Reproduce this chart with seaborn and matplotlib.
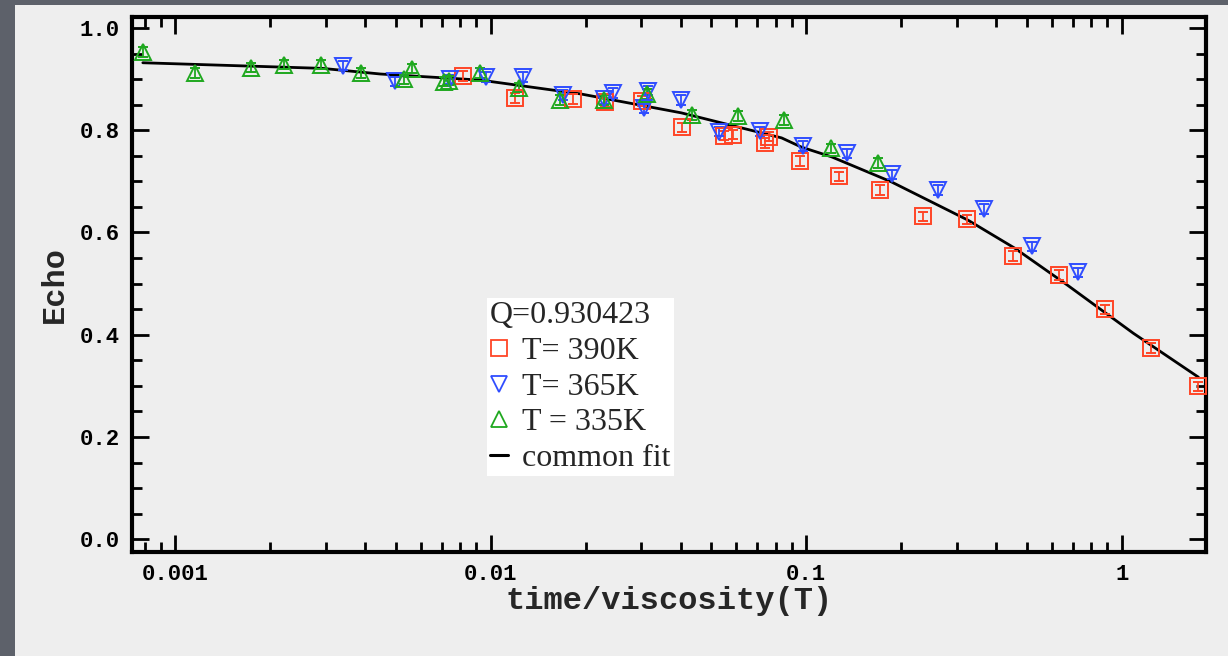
import matplotlib
matplotlib.use("Agg")
import matplotlib.pyplot as plt
import matplotlib.ticker as mticker
from matplotlib.patches import Rectangle
from matplotlib.lines import Line2D
import numpy as np
import pandas as pd
import seaborn as sns

# ---- data ----
x_390 = [0.0082, 0.01192, 0.0182, 0.0230, 0.0301, 0.0404, 0.0549, 0.0587, 0.0741, 0.0760,
         0.0957, 0.1273, 0.1718, 0.235, 0.324, 0.451, 0.631, 0.883, 1.236, 1.742]
y_390 = [0.906, 0.863, 0.861, 0.855, 0.857, 0.806, 0.789, 0.791, 0.775, 0.787,
         0.740, 0.710, 0.683, 0.632, 0.626, 0.554, 0.517, 0.450, 0.374, 0.299]

x_365 = [0.00341, 0.00496, 0.00746, 0.00964, 0.01264, 0.01693, 0.0228, 0.0244, 0.0315, 0.0306,
         0.0401, 0.0529, 0.0714, 0.0978, 0.135, 0.1875, 0.262, 0.367, 0.518, 0.725]
y_365 = [0.926, 0.896, 0.900, 0.904, 0.904, 0.869, 0.861, 0.873, 0.877, 0.843,
         0.859, 0.797, 0.798, 0.769, 0.755, 0.714, 0.683, 0.646, 0.573, 0.522]

x_335 = [0.000791, 0.001157, 0.00174, 0.00222, 0.00291, 0.00389, 0.0053, 0.00565, 0.0071, 0.0074,
         0.00923, 0.01228, 0.01656, 0.02284, 0.0313, 0.0435, 0.0608, 0.0851, 0.120, 0.169]
y_335 = [0.953, 0.912, 0.922, 0.928, 0.928, 0.912, 0.900, 0.920, 0.895, 0.897,
         0.912, 0.883, 0.859, 0.859, 0.871, 0.830, 0.828, 0.820, 0.765, 0.736]

err = 0.009

x_fit = [0.00079, 0.00293, 0.00447, 0.0093, 0.0193, 0.0402, 0.0836, 0.0966, 0.1203,
         0.1862, 0.326, 0.459, 0.673, 1.088, 1.75]
y_fit = [0.932, 0.921, 0.910, 0.898, 0.871, 0.834, 0.785, 0.767, 0.748,
         0.699, 0.624, 0.569, 0.497, 0.403, 0.317]

series_labels = ["T= 390K", "T= 365K", "T = 335K"]
fit_label = "common fit"
legend_title = "Q=0.930423"
x_ticks = [0.001, 0.01, 0.1, 1]
x_ticklabels = ["0.001", "0.01", "0.1", "1"]
y_ticks = [0.0, 0.2, 0.4, 0.6, 0.8, 1.0]
y_ticklabels = ["0.0", "0.2", "0.4", "0.6", "0.8", "1.0"]

# ---- style ----
sns.set_theme(style="ticks")
plt.rcParams['font.family'] = ['Liberation Mono', 'DejaVu Sans']

BG = "#eeeeee"
RED = "#ff4526"
BLUE = "#2f4dff"
GREEN = "#1fa81f"

fig = plt.figure(figsize=(12.28, 6.56), dpi=100, facecolor=BG)
# slide-like dark border strips
fig.patches.append(Rectangle((0, 0), 15 / 1228, 1, transform=fig.transFigure,
                             facecolor="#5d616a", edgecolor="none", zorder=0))
fig.patches.append(Rectangle((0, 1 - 5 / 656), 1, 5 / 656, transform=fig.transFigure,
                             facecolor="#5d616a", edgecolor="none", zorder=0))

ax = fig.add_axes([132 / 1228, 1 - 552 / 656, (1206 - 132) / 1228, (552 - 17) / 656])
ax.set_facecolor(BG)

fit_df = pd.DataFrame({"x": x_fit, "y": y_fit})
sns.lineplot(data=fit_df, x="x", y="y", color="black", linewidth=2.0, ax=ax,
             zorder=3, legend=False)

specs = [
    (x_390, y_390, "s", RED, 11),
    (x_365, y_365, "v", BLUE, 12),
    (x_335, y_335, "^", GREEN, 12),
]
for xs, ys, mk, col, ms in specs:
    ax.errorbar(xs, ys, yerr=err, fmt=mk, mfc="none", mec=col, mew=1.4, ms=ms,
                ecolor=col, elinewidth=1.3, capsize=3.5, capthick=1.3, zorder=4)

ax.set_xscale("log")
ax.set_xlim(0.00073, 1.85)
ax.set_ylim(-0.025, 1.0215)

ax.set_xticks(x_ticks)
ax.set_xticklabels(x_ticklabels)
ax.xaxis.set_minor_locator(mticker.LogLocator(base=10, subs=np.arange(2, 10), numticks=20))
ax.xaxis.set_minor_formatter(mticker.NullFormatter())
ax.set_yticks(y_ticks)
ax.set_yticklabels(y_ticklabels)
ax.yaxis.set_minor_locator(mticker.MultipleLocator(0.05))

for sp in ax.spines.values():
    sp.set_visible(True)
    sp.set_linewidth(3.0)
    sp.set_color("black")

ax.tick_params(which="major", direction="in", length=12, width=2.0, top=True, right=True,
               colors="black", labelsize=16, pad=9)
ax.tick_params(which="minor", direction="in", length=7, width=2.0, top=True, right=True,
               colors="black")
for lab in ax.get_xticklabels() + ax.get_yticklabels():
    lab.set_fontweight("bold")
    lab.set_family(["Liberation Mono", "DejaVu Sans"])

ax.set_xlabel("time/viscosity(T)", fontsize=23, fontweight="bold",
              family=["Liberation Mono", "DejaVu Sans"], labelpad=0)
ax.set_ylabel("Echo", fontsize=23, fontweight="bold",
              family=["Liberation Mono", "DejaVu Sans"], labelpad=7)

handles = [
    Line2D([], [], marker="s", ls="none", mfc="none", mec=RED, mew=1.3, ms=11),
    Line2D([], [], marker="v", ls="none", mfc="none", mec=BLUE, mew=1.3, ms=11),
    Line2D([], [], marker="^", ls="none", mfc="none", mec=GREEN, mew=1.3, ms=11),
    Line2D([], [], color="black", lw=2.2),
]
leg = ax.legend(handles, series_labels + [fit_label], title=legend_title,
                loc="upper left", bbox_to_anchor=((487 - 132) / (1206 - 132), (552 - 298) / (552 - 17)),
                borderaxespad=0, frameon=True, fancybox=False, framealpha=1,
                facecolor="white", edgecolor="none", borderpad=0.1,
                handlelength=0.55, handletextpad=0.45, labelspacing=0.2,
                alignment="left",
                prop={"family": ["Liberation Serif"], "size": 23},
                title_fontproperties={"family": ["Liberation Serif"], "size": 23})
leg.set_zorder(10)

fig.savefig("out.png", dpi=100, facecolor=BG)
